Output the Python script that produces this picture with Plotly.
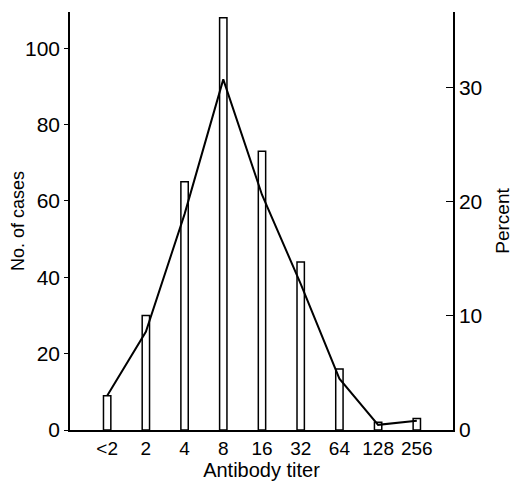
import plotly.graph_objects as go

categories = ["<2", "2", "4", "8", "16", "32", "64", "128", "256"]
cases = [9, 30, 65, 108, 73, 44, 16, 2, 3]
percent = [3.0, 8.6, 18.9, 30.7, 20.6, 12.8, 4.5, 0.45, 0.8]
left_ticks = [0, 20, 40, 60, 80, 100]
right_ticks = [0, 10, 20, 30]

pos = list(range(len(categories)))

fig = go.Figure()
fig.add_trace(go.Bar(
    x=pos, y=cases, width=0.19,
    marker=dict(color="white", line=dict(color="black", width=1.5)),
    yaxis="y", showlegend=False,
))
fig.add_trace(go.Scatter(
    x=pos, y=percent, mode="lines",
    line=dict(color="black", width=2),
    yaxis="y2", showlegend=False,
))

# page body has an 8px default margin, so the figure is sized to fit the window
fig.update_layout(
    width=510, height=476,
    margin=dict(l=62, r=65, t=4, b=54),
    paper_bgcolor="white", plot_bgcolor="white",
    font=dict(family="Liberation Sans, Arial, sans-serif", color="black"),
    xaxis=dict(
        range=[-0.96, 8.935], tickvals=pos, ticktext=categories,
        showline=True, linecolor="black", linewidth=1.5,
        showgrid=False, zeroline=False, ticks="", automargin=False,
        tickfont=dict(size=19),
        title=dict(text="Antibody titer", font=dict(size=20), standoff=4),
    ),
    yaxis=dict(
        range=[0, 109.5], tickvals=left_ticks,
        showline=True, linecolor="black", linewidth=1.5,
        showgrid=False, zeroline=False, automargin=False,
        ticks="outside", ticklen=4, tickcolor="black",
        tickfont=dict(size=21),
        title=dict(text="No. of cases", font=dict(size=18), standoff=4),
    ),
    yaxis2=dict(
        range=[0, 36.6], tickvals=right_ticks, overlaying="y", side="right",
        showline=True, linecolor="black", linewidth=1.5,
        showgrid=False, zeroline=False, automargin=False,
        ticks="inside", ticklen=7, tickcolor="black",
        tickfont=dict(size=21),
        title=dict(text="Percent", font=dict(size=19), standoff=14),
    ),
)

fig.write_html("out.html")
